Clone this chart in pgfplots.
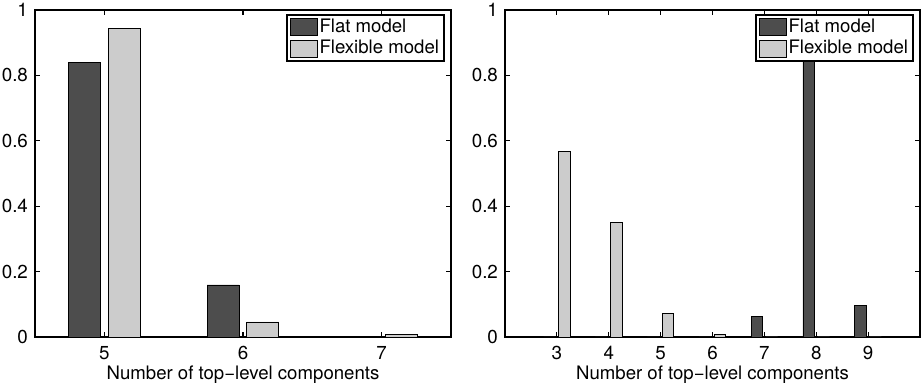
\documentclass[border=0pt]{standalone}
\usepackage{pgfplots}
\pgfplotsset{compat=1.18}
\usepackage{fontspec}
\setmainfont{TeX Gyre Heros}
\definecolor{darkbar}{RGB}{77,77,77}
\definecolor{lightbar}{RGB}{204,204,204}
\pgfplotsset{mystyle/.style={
  scale only axis, height=163.5pt,
  axis line style={line width=1.1pt},
  tick align=inside, xtick pos=both, ytick pos=both,
  major tick length=2.5pt, tick style={line width=0.6pt, black},
  ymin=0, ymax=1, ytick={0,0.2,0.4,0.6,0.8,1},
  /pgf/number format/assume math mode=true,
  tick label style={font=\fontsize{9.4}{11}\selectfont},
  xticklabel style={yshift=-1pt},
  label style={font=\fontsize{9.3}{11}\selectfont},
  xlabel style={yshift=4pt},
  xlabel={Number of top−level components},
  legend style={at={(rel axis cs:1,1)}, anchor=north east, xshift=-3pt, yshift=-2pt,
    draw=black, line width=1.1pt, font=\fontsize{9.3}{11}\selectfont,
    inner xsep=1.7pt, inner ysep=0.6pt, row sep=0pt,
    nodes={inner xsep=0.75pt, inner ysep=1.25pt}},
  legend cell align=left,
  legend image code/.code={\draw[##1, line width=0.4pt] (0pt,-4.25pt) rectangle (13.5pt,4.25pt);},
}}
\begin{document}
\begin{tikzpicture}
\useasboundingbox (0,0) rectangle (461pt,191.5pt);
\begin{axis}[mystyle, at={(17.5pt,23pt)}, anchor=south west, width=208pt,
  xmin=4.5, xmax=7.5, xtick={5,6,7}]
\addplot[ybar, bar width=0.23, bar shift=-0.143, fill=darkbar, draw=black, line width=0.4pt]
  coordinates {(5,0.839) (6,0.159) (7,0.002)};
\addplot[ybar, bar width=0.23, bar shift=0.143, fill=lightbar, draw=black, line width=0.4pt]
  coordinates {(5,0.944) (6,0.046) (7,0.009)};
\legend{Flat model, Flexible model}
\end{axis}
\begin{axis}[mystyle, at={(252.5pt,23pt)}, anchor=south west, width=207.5pt,
  xmin=2, xmax=10, xtick={3,4,5,6,7,8,9}]
\addplot[ybar, bar width=0.225, bar shift=-0.143, fill=darkbar, draw=black, line width=0.4pt]
  coordinates {(3,0) (4,0) (5,0) (6,0) (7,0.062) (8,0.842) (9,0.096)};
\addplot[ybar, bar width=0.225, bar shift=0.143, fill=lightbar, draw=black, line width=0.4pt]
  coordinates {(3,0.567) (4,0.350) (5,0.072) (6,0.009) (7,0) (8,0) (9,0)};
\legend{Flat model, Flexible model}
\end{axis}
\end{tikzpicture}
\end{document}
